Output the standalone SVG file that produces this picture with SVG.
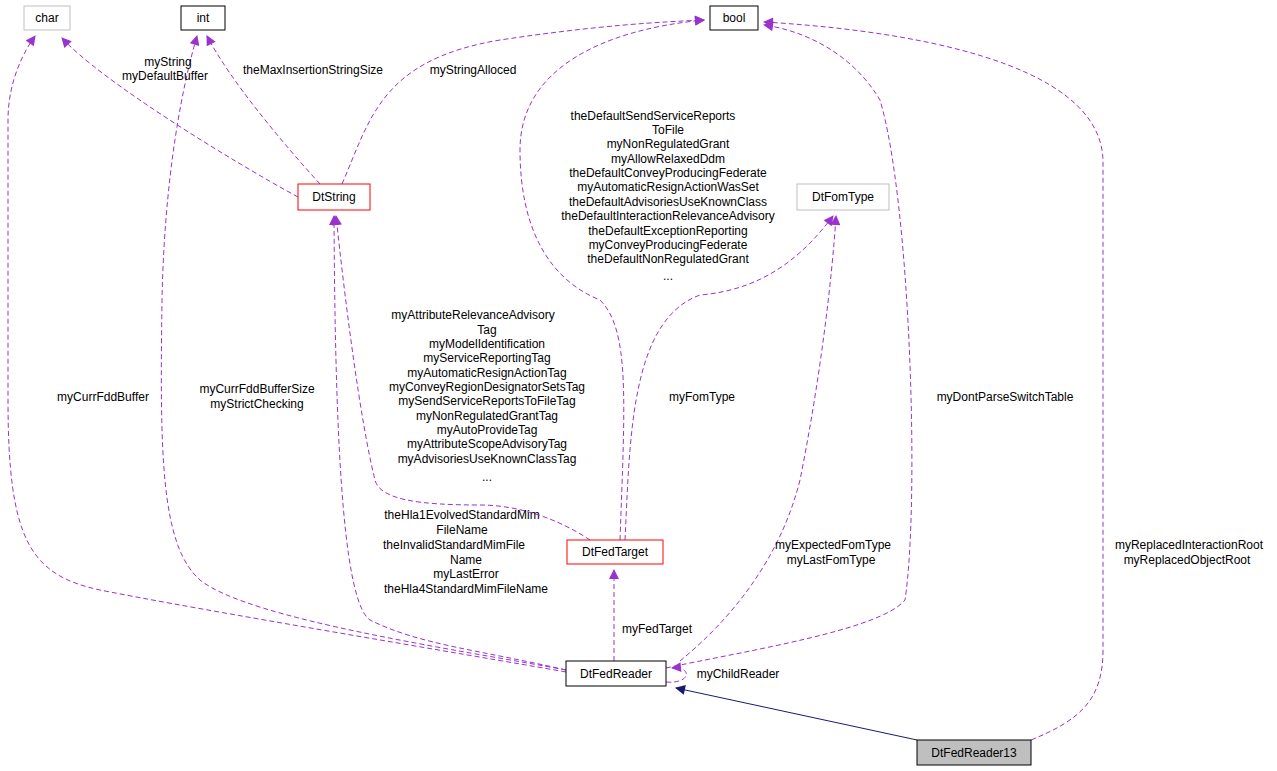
<svg xmlns="http://www.w3.org/2000/svg" width="1277" height="771" viewBox="0 0 1277 771">
<style>
text{font-family:"Liberation Sans",Arial,sans-serif;font-size:12px;text-anchor:middle;fill:#000}
.n{fill:#fff;stroke:#000;stroke-width:1}
.g{fill:#fff;stroke:#bfbfbf}
.r{fill:#fff;stroke:#ff0000}
.e{fill:none;stroke:#9a32cd;stroke-dasharray:5,3;marker-end:url(#pa)}
.i{fill:none;stroke:#191970;marker-end:url(#ia)}
</style>
<defs>
<marker id="pa" viewBox="0 0 10 10" refX="9" refY="5" markerWidth="12" markerHeight="10" markerUnits="userSpaceOnUse" orient="auto"><path d="M0,0L10,5L0,10z" fill="#9a32cd"/></marker>
<marker id="ia" viewBox="0 0 10 10" refX="9" refY="5" markerWidth="12" markerHeight="10" markerUnits="userSpaceOnUse" orient="auto"><path d="M0,0L10,5L0,10z" fill="#191970"/></marker>
</defs>
<rect width="1277" height="771" fill="#fff"/>
<g id="edges">
<path class="e" d="M566,672 C470,655 200,610 100,590 C30,575 8,540 8,400 L8,120 C8,80 25,50 35,36"/>
<text x="103" y="401">myCurrFddBuffer</text>
<path class="e" d="M566,670 C460,650 250,620 200,580 C160,545 160,450 162,300 C165,150 190,60 197,36"/>
<text x="257" y="393">myCurrFddBufferSize</text><text x="257" y="408">myStrictChecking</text>
<path class="e" d="M298,197 C230,160 100,80 62,38"/>
<text x="168" y="66">myString</text><text x="165" y="80">myDefaultBuffer</text>
<path class="e" d="M320,184 C280,140 230,80 207,36"/>
<text x="313" y="74">theMaxInsertionStringSize</text>
<path class="e" d="M342,184 C370,120 380,60 500,40 C600,25 660,22 704,20"/>
<text x="473" y="74">myStringAlloced</text>
<path class="e" d="M566,670 C480,650 420,645 370,620 C340,600 335,400 334,216"/>
<text x="462" y="519">theHla1EvolvedStandardMim</text><text x="462" y="534">FileName</text><text x="454" y="549">theInvalidStandardMimFile</text><text x="466" y="564">Name</text><text x="466" y="578">myLastError</text><text x="466" y="593">theHla4StandardMimFileName</text>
<path class="e" d="M590,540 C560,520 520,505 480,505 C420,505 380,500 375,480 C360,420 345,300 336,216"/>
<text x="473" y="319">myAttributeRelevanceAdvisory</text><text x="487" y="334">Tag</text><text x="487" y="348">myModelIdentification</text><text x="487" y="362">myServiceReportingTag</text><text x="487" y="377">myAutomaticResignActionTag</text><text x="487" y="391">myConveyRegionDesignatorSetsTag</text><text x="487" y="405">mySendServiceReportsToFileTag</text><text x="487" y="420">myNonRegulatedGrantTag</text><text x="487" y="434">myAutoProvideTag</text><text x="487" y="448">myAttributeScopeAdvisoryTag</text><text x="487" y="463">myAdvisoriesUseKnownClassTag</text><text x="487" y="481">...</text>
<path class="e" d="M620,540 C625,400 630,330 600,300 C550,280 520,230 520,150 C520,70 600,30 704,20"/>
<text x="653" y="120">theDefaultSendServiceReports</text><text x="668" y="134">ToFile</text><text x="668" y="148">myNonRegulatedGrant</text><text x="668" y="163">myAllowRelaxedDdm</text><text x="668" y="177">theDefaultConveyProducingFederate</text><text x="668" y="191">myAutomaticResignActionWasSet</text><text x="668" y="206">theDefaultAdvisoriesUseKnownClass</text><text x="668" y="220">theDefaultInteractionRelevanceAdvisory</text><text x="668" y="235">theDefaultExceptionReporting</text><text x="668" y="249">myConveyProducingFederate</text><text x="668" y="263">theDefaultNonRegulatedGrant</text><text x="668" y="280">...</text>
<path class="e" d="M625,540 C630,440 630,320 700,295 C760,290 800,260 833,216"/>
<text x="702" y="401">myFomType</text>
<path class="e" d="M614,661 L614,570"/>
<text x="657" y="633">myFedTarget</text>
<path class="e" d="M680,661 C730,620 780,560 800,480 C820,380 832,280 836,216"/>
<text x="833" y="549">myExpectedFomType</text><text x="831" y="564">myLastFomType</text>
<path class="e" d="M666,668 C750,650 880,630 905,600 C920,500 910,200 880,100 C850,50 800,30 764,25"/>
<text x="1005" y="401">myDontParseSwitchTable</text>
<path class="e" d="M1031,740 C1080,720 1103,700 1103,650 L1103,160 C1100,60 900,30 764,22"/>
<text x="1189" y="549">myReplacedInteractionRoot</text><text x="1187" y="564">myReplacedObjectRoot</text>
<path class="e" d="M666,682 C692,684 692,666 672,668"/>
<text x="738" y="678">myChildReader</text>
<path class="i" d="M917,740 L676,688"/>
</g>
<g id="char"><rect class="g" x="24" y="6" width="46" height="24"/><text x="47" y="22">char</text></g>
<g id="int"><rect class="n" x="181" y="6" width="44" height="24"/><text x="203" y="22">int</text></g>
<g id="bool"><rect class="n" x="710" y="6" width="48" height="24"/><text x="734" y="22">bool</text></g>
<g id="DtString"><rect class="r" x="298" y="184" width="72" height="26"/><text x="334" y="201">DtString</text></g>
<g id="DtFomType"><rect class="g" x="797" y="184" width="92" height="26"/><text x="843" y="201">DtFomType</text></g>
<g id="DtFedTarget"><rect class="r" x="567" y="540" width="96" height="24"/><text x="615" y="556">DtFedTarget</text></g>
<g id="DtFedReader"><rect class="n" x="566" y="661" width="100" height="25"/><text x="616" y="678">DtFedReader</text></g>
<g id="DtFedReader13"><rect x="917" y="740" width="114" height="25" fill="#bfbfbf" stroke="#000"/><text x="974" y="757">DtFedReader13</text></g>
</svg>
